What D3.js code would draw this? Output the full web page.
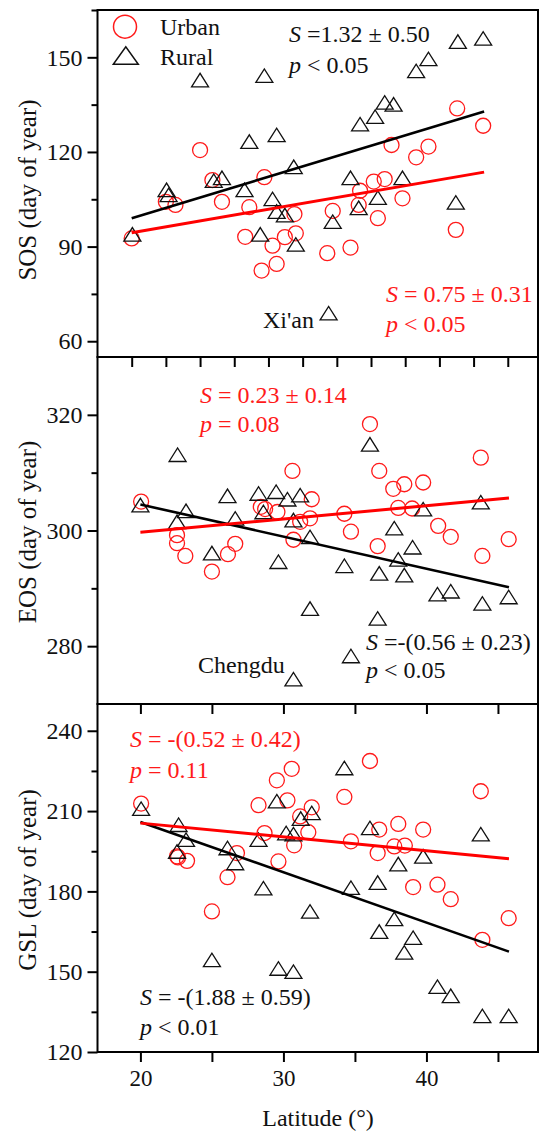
<!DOCTYPE html>
<html>
<head>
<meta charset="utf-8">
<script src="https://cdn.jsdelivr.net/npm/d3@7"></script>
<style>
  html, body { margin: 0; padding: 0; background: #fff; }
  svg { display: block; }
  text { font-family: "Liberation Serif", "Times New Roman", serif; }
</style>
</head>
<body>
<svg id="chart" width="540" height="1136"></svg>
<script>
// ---------------- DATA ----------------
const sosUrbanLat = [20.0, 22.5, 23.2, 25.0, 25.9, 26.6, 28.3, 28.6, 29.5, 29.7, 30.3, 30.6, 31.2, 31.9, 32.0, 34.3, 34.7, 36.0, 36.6, 36.7, 37.7, 38.0, 38.5, 39.0, 39.8, 40.8, 41.7, 43.7, 43.8, 45.7];
const sosUrban    = [92.6, 104.2, 103.2, 120.6, 111.1, 104.2, 93.1, 102.5, 82.4, 112.0, 90.3, 84.5, 93.0, 100.3, 94.2, 87.9, 101.3, 89.7, 103.2, 107.7, 110.6, 99.0, 111.4, 122.2, 105.3, 118.3, 121.7, 95.3, 133.8, 128.3];
const sosRuralLat = [20.05, 22.55, 22.7, 25.0, 26.0, 26.6, 28.25, 28.6, 29.4, 29.7, 30.3, 30.6, 30.6, 31.2, 31.85, 32.0, 34.4, 34.7, 36.0, 36.6, 36.7, 37.8, 38.0, 38.5, 39.15, 39.8, 40.8, 41.7, 43.7, 43.85, 45.7];
const sosRural    = [93.9, 108.0, 106.4, 142.8, 110.9, 111.8, 108.0, 123.3, 93.9, 144.2, 105.1, 101.1, 125.4, 100.0, 115.3, 90.7, 68.9, 97.9, 111.8, 102.3, 128.8, 131.2, 105.5, 135.7, 135.1, 111.8, 145.7, 149.5, 104.0, 155.0, 156.0];

const eosUrbanLat = [20.05, 22.56, 22.56, 23.14, 25.0, 26.12, 26.63, 28.42, 28.72, 29.58, 30.63, 30.7, 31.17, 31.86, 31.98, 34.26, 34.72, 36.05, 36.59, 36.7, 37.68, 38.03, 38.45, 39.0, 39.77, 40.82, 41.7, 43.8, 43.91, 45.75];
const eosUrban    = [305.0, 299.2, 297.8, 295.6, 292.9, 295.9, 297.7, 304.1, 303.7, 303.2, 310.3, 298.4, 301.5, 302.1, 305.4, 302.9, 299.8, 318.4, 297.3, 310.3, 307.2, 303.9, 308.0, 303.8, 308.3, 300.8, 298.9, 312.6, 295.6, 298.5];
const eosRuralLat = [20.0, 22.56, 22.6, 23.19, 25.0, 26.09, 26.63, 28.26, 28.6, 29.49, 29.65, 30.28, 30.7, 30.7, 31.17, 31.86, 31.86, 34.26, 34.72, 36.05, 36.59, 36.7, 37.75, 38.03, 38.45, 39.03, 39.77, 40.77, 41.7, 43.8, 43.91, 45.75];
const eosRural    = [304.4, 301.5, 313.1, 303.4, 296.1, 306.0, 302.1, 306.4, 303.2, 306.7, 294.6, 305.4, 301.8, 274.3, 306.1, 298.9, 286.5, 293.9, 278.3, 314.9, 284.8, 292.6, 300.4, 295.0, 292.3, 297.1, 303.7, 289.0, 289.5, 304.9, 287.4, 288.5];

const gslUrbanLat = [20.05, 22.56, 22.63, 23.26, 25.0, 26.09, 26.75, 28.26, 28.68, 29.54, 29.65, 30.28, 30.58, 30.75, 31.17, 31.74, 31.98, 34.26, 34.72, 36.05, 36.59, 36.7, 37.75, 38.03, 38.49, 39.07, 39.77, 40.77, 41.7, 43.8, 43.91, 45.75];
const gslUrban    = [212.8, 193.1, 192.7, 191.4, 172.5, 185.3, 194.3, 212.2, 201.8, 221.5, 191.2, 214.0, 225.8, 197.2, 208.0, 202.1, 211.4, 215.3, 198.7, 228.7, 194.3, 203.1, 196.8, 205.2, 197.1, 181.6, 203.1, 182.5, 177.1, 217.4, 161.9, 170.0];
const gslRuralLat = [20.05, 22.56, 22.67, 23.19, 25.0, 26.09, 26.63, 28.26, 28.6, 29.54, 29.65, 30.19, 30.7, 30.7, 31.21, 31.86, 31.98, 34.26, 34.72, 36.05, 36.59, 36.7, 37.75, 38.03, 38.45, 39.07, 39.77, 40.77, 41.7, 43.8, 43.91, 45.75];
const gslRural    = [210.9, 194.9, 204.9, 199.3, 154.4, 196.2, 190.6, 199.3, 181.2, 213.7, 151.2, 201.8, 201.4, 150.0, 207.2, 172.5, 209.3, 226.1, 181.4, 203.7, 183.3, 165.0, 169.7, 190.2, 157.2, 162.7, 193.1, 144.4, 141.0, 201.4, 133.5, 133.5];

// fitted lines: [lat, value] end points
const sosFitUrban = [[20, 94.4], [45.77, 113.6]];
const sosFitRural = [[20, 99.0], [45.77, 132.8]];
const eosFitUrban = [[20, 299.7], [45.77, 305.6]];
const eosFitRural = [[20, 304.5], [45.77, 290.2]];
const gslFitUrban = [[20, 205.5], [45.77, 192.2]];
const gslFitRural = [[20, 205.9], [45.77, 157.5]];

// ticks
const sosTicks = [60, 90, 120, 150];
const sosMinorTicks = [75, 105, 135, 165];
const eosTicks = [280, 300, 320];
const eosMinorTicks = [290, 310];
const gslTicks = [120, 150, 180, 210, 240];
const gslMinorTicks = [135, 165, 195, 225];
const topLatTicks = [20, 22.5, 25, 27.5, 30, 32.5, 35, 37.5, 40, 42.5, 45, 47.5];
const latTicks = [20, 25, 30, 35, 40, 45];
const latTickLabels = [20, 30, 40];

const panelTitles = ["SOS (day of year)", "EOS (day of year)", "GSL (day of year)"];
const legendLabels = ["Urban", "Rural"];

// ---------------- LAYOUT ----------------
const svg = d3.select("#chart");
const L = 97.5, R = 538;
const RED = "#ff1a1a";
const fontStack = '"Liberation Serif", "Times New Roman", serif';

const xTop = d3.scaleLinear().domain([17.5, 49.71]).range([L, R]);
const xLow = d3.scaleLinear().domain([17, 47.8]).range([L, R]);

const panels = [
  { top: 10, bottom: 357, yDomain: [55, 165], x: xTop, xTicks: topLatTicks, ticks: sosTicks, minor: sosMinorTicks,
    uLat: sosUrbanLat, u: sosUrban, rLat: sosRuralLat, r: sosRural, fitU: sosFitUrban, fitR: sosFitRural,
    title: panelTitles[0], titleY: 190 },
  { top: 357, bottom: 704, yDomain: [270, 330], x: xLow, xTicks: latTicks, ticks: eosTicks, minor: eosMinorTicks,
    uLat: eosUrbanLat, u: eosUrban, rLat: eosRuralLat, r: eosRural, fitU: eosFitUrban, fitR: eosFitRural,
    title: panelTitles[1], titleY: 532 },
  { top: 704, bottom: 1052, yDomain: [120, 250], x: xLow, xTicks: latTicks, ticks: gslTicks, minor: gslMinorTicks,
    uLat: gslUrbanLat, u: gslUrban, rLat: gslRuralLat, r: gslRural, fitU: gslFitUrban, fitR: gslFitRural,
    title: panelTitles[2], titleY: 880 }
];

function triPath(cx, cy, w, h) {
  return `M${cx - w/2},${cy + h/2}L${cx + w/2},${cy + h/2}L${cx},${cy - h/2}Z`;
}

panels.forEach((p, i) => {
  const y = d3.scaleLinear().domain(p.yDomain).range([p.bottom, p.top]);
  const g = svg.append("g");

  // y axis major
  const yAxis = d3.axisLeft(y).tickValues(p.ticks).tickSize(10).tickPadding(5).tickFormat(d3.format("d"));
  const ya = g.append("g").attr("transform", `translate(${L},0)`).call(yAxis);
  ya.select(".domain").remove();
  ya.selectAll("line").attr("stroke", "#000").attr("stroke-width", 2);
  ya.selectAll("text").attr("font-size", 24).attr("font-family", fontStack).attr("fill", "#111");
  // y minor
  const ym = g.append("g").attr("transform", `translate(${L},0)`)
    .call(d3.axisLeft(y).tickValues(p.minor).tickSize(6).tickFormat(""));
  ym.select(".domain").remove();
  ym.selectAll("line").attr("stroke", "#000").attr("stroke-width", 2);

  // x ticks (bottom, outward)
  const xa = g.append("g").attr("transform", `translate(0,${p.bottom})`)
    .call(d3.axisBottom(p.x).tickValues(p.xTicks).tickSize(10).tickPadding(8)
      .tickFormat(d => (i === 2 && latTickLabels.includes(d)) ? d : ""));
  xa.select(".domain").remove();
  xa.selectAll("line").attr("stroke", "#000").attr("stroke-width", 2);
  xa.selectAll("text").attr("font-size", 23).attr("font-family", fontStack).attr("fill", "#111");

  // points
  g.append("g").selectAll("circle").data(p.u).join("circle")
    .attr("cx", (d, k) => p.x(p.uLat[k])).attr("cy", d => y(d)).attr("r", 7.5)
    .attr("fill", "none").attr("stroke", RED).attr("stroke-width", 1.3);
  g.append("g").selectAll("path").data(p.r).join("path")
    .attr("d", (d, k) => triPath(p.x(p.rLat[k]), y(d), 17, 13.5))
    .attr("fill", "none").attr("stroke", "#111").attr("stroke-width", 1.3);

  // fit lines
  const line = d3.line().x(d => p.x(d[0])).y(d => y(d[1]));
  g.append("path").attr("d", line(p.fitR)).attr("stroke", "#000").attr("stroke-width", 2.6).attr("fill", "none");
  g.append("path").attr("d", line(p.fitU)).attr("stroke", "#ff0000").attr("stroke-width", 3).attr("fill", "none");

  // frame
  g.append("rect").attr("x", L).attr("y", p.top).attr("width", R - L).attr("height", p.bottom - p.top)
    .attr("fill", "none").attr("stroke", "#000").attr("stroke-width", 2);

  // y title
  g.append("text").attr("transform", `translate(27,${p.titleY}) rotate(-90)`)
    .attr("text-anchor", "middle").attr("dy", "0.35em")
    .attr("font-size", 25).attr("fill", "#111").text(p.title);
});

// legend
svg.append("circle").attr("cx", 125).attr("cy", 26.7).attr("r", 11.5)
  .attr("fill", "none").attr("stroke", RED).attr("stroke-width", 1.5);
svg.append("path").attr("d", triPath(125.8, 55.5, 25, 17.6))
  .attr("fill", "none").attr("stroke", "#111").attr("stroke-width", 1.5);
svg.append("text").attr("x", 160).attr("y", 26.7).attr("dy", "0.35em").attr("font-size", 24).attr("fill", "#111").text(legendLabels[0]);
svg.append("text").attr("x", 160).attr("y", 56.7).attr("dy", "0.35em").attr("font-size", 24).attr("fill", "#111").text(legendLabels[1]);

// annotations
function annot(x, yc, parts, color) {
  const t = svg.append("text").attr("x", x).attr("y", yc).attr("dy", "0.35em")
    .attr("font-size", 24).attr("fill", color);
  parts.forEach(pt => {
    const ts = t.append("tspan").text(pt[0]);
    if (pt[1]) ts.attr("font-style", "italic");
  });
}
annot(289, 34, [["S", true], [" =1.32 ± 0.50"]], "#111");
annot(289, 65, [["p", true], [" < 0.05"]], "#111");
annot(386, 294, [["S", true], [" = 0.75 ± 0.31"]], RED);
annot(386, 324, [["p", true], [" < 0.05"]], RED);
annot(263, 320, [["Xi'an"]], "#111");

annot(200, 395, [["S", true], [" = 0.23 ± 0.14"]], RED);
annot(200, 424, [["p", true], [" = 0.08"]], RED);
annot(198, 665, [["Chengdu"]], "#111");
annot(366, 642, [["S", true], [" =-(0.56 ± 0.23)"]], "#111");
annot(366, 670, [["p", true], [" < 0.05"]], "#111");

annot(130, 739, [["S", true], [" = -(0.52 ± 0.42)"]], RED);
annot(130, 770, [["p", true], [" = 0.11"]], RED);
annot(140, 997, [["S", true], [" = -(1.88 ± 0.59)"]], "#111");
annot(140, 1027, [["p", true], [" < 0.01"]], "#111");

// x title
svg.append("text").attr("x", 318).attr("y", 1118).attr("dy", "0.35em").attr("text-anchor", "middle")
  .attr("font-size", 24).attr("fill", "#111").text("Latitude (°)");
</script>
</body>
</html>
